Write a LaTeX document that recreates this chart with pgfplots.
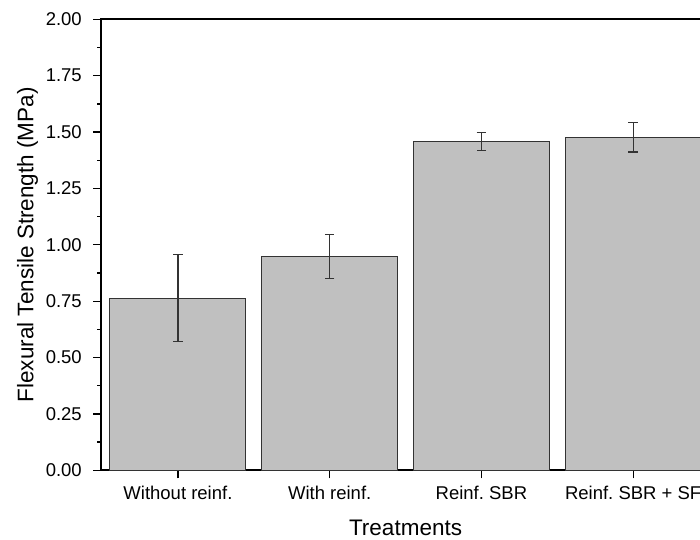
\documentclass[border=0pt]{standalone}
\usepackage{pgfplots}
\pgfplotsset{compat=1.18}
\usepackage{fontspec}
\setmainfont{Liberation Sans}
\definecolor{barfill}{HTML}{C0C0C0}
\definecolor{edge}{HTML}{333333}
\begin{document}
\begin{tikzpicture}
\useasboundingbox (-101.3pt,-68.7pt) rectangle (598.7pt,470.3pt);
\clip (-101.3pt,-68.7pt) rectangle (598.7pt,470.3pt);
\begin{axis}[
  at={(0,0)}, anchor=south west,
  scale only axis, width=608.5pt, height=451pt,
  xmin=-0.505, xmax=3.505, ymin=0, ymax=2,
  ybar, bar width=0.8965,
  xtick={0,1,2,3},
  xticklabels={Without reinf., With reinf., Reinf.\ SBR, Reinf.\ SBR + SF},
  ytick={0,0.25,...,2}, minor y tick num=1,
  tick pos=left, tick align=outside,
  major tick length=8pt, minor tick length=4pt,
  tick style={line width=1.3pt, black},
  axis line style={line width=1.8pt},
  /pgf/number format/assume math mode=true,
  yticklabel style={/pgf/number format/.cd, fixed, fixed zerofill, precision=2, /tikz/.cd, xshift=-8pt},
  xticklabel style={yshift=-4pt},
  ticklabel style={font=\fontsize{18.5pt}{22pt}\selectfont},
  xlabel={Treatments}, ylabel={Flexural Tensile Strength (MPa)},
  label style={font=\fontsize{22.5pt}{26pt}\selectfont},
  xlabel style={at={(axis description cs:0.5,-0.1440)}, anchor=base},
  ylabel style={at={(axis description cs:-0.1117,0.5)}, anchor=base},
]
\addplot[fill=barfill, draw=edge, line width=1pt,
  error bars/.cd, y dir=both, y explicit, error mark=|,
  error bar style={line width=1.3pt, color=edge},
  error mark options={line width=1.3pt, mark size=4.7pt, color=edge}]
coordinates {
  (0,0.763) +- (0,0.193)
  (1,0.948) +- (0,0.098)
  (2,1.458) +- (0,0.040)
  (3,1.477) +- (0,0.065)
};
\end{axis}
\end{tikzpicture}
\end{document}
